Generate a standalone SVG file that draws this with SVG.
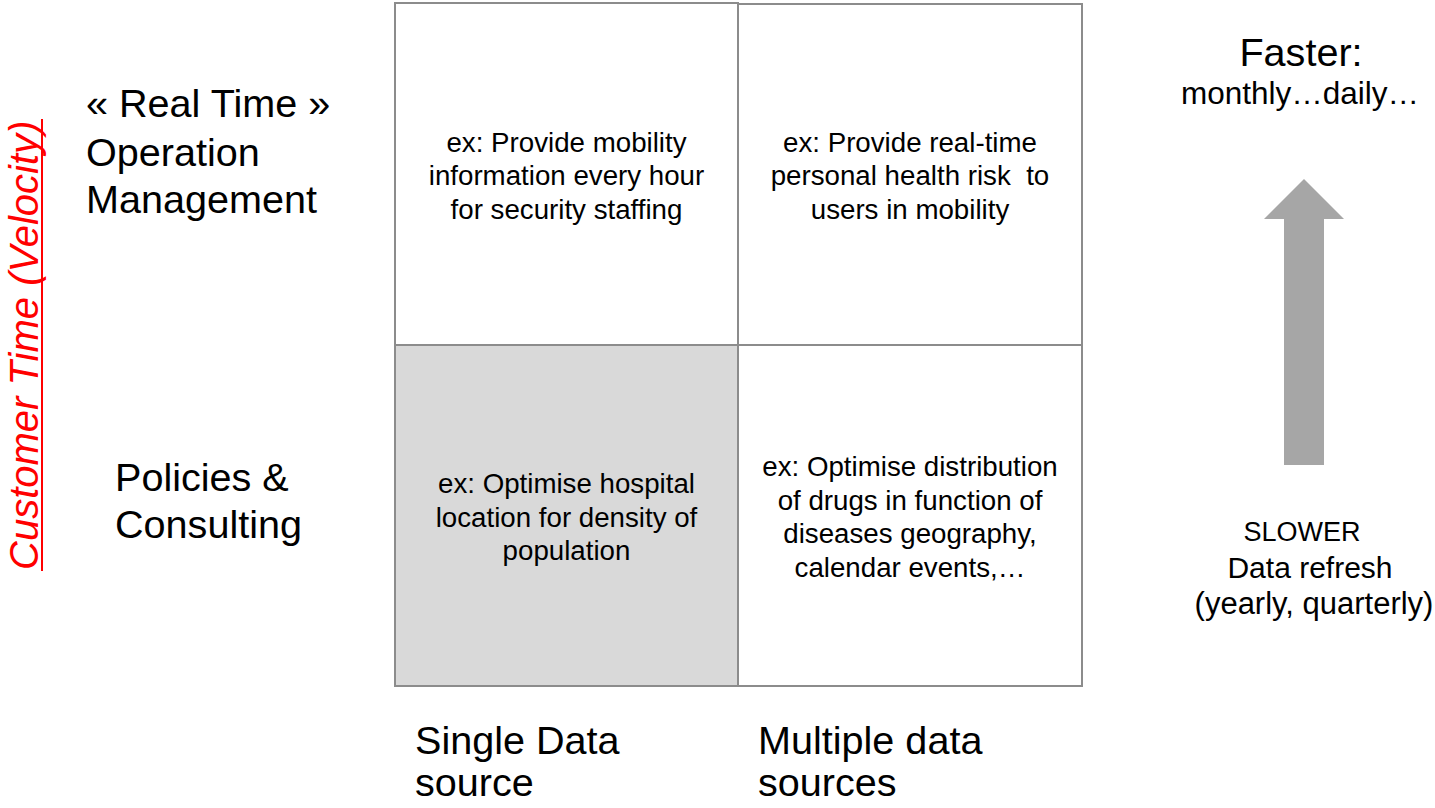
<svg xmlns="http://www.w3.org/2000/svg" width="1435" height="808" viewBox="0 0 1435 808">
<style>
  text { font-family: "Liberation Sans", Arial, sans-serif; fill: #000; }
  .big { font-size: 39.6px; }
  .cell { font-size: 27.7px; text-anchor: middle; }
  .side { font-size: 30px; text-anchor: middle; }
  .box { stroke: #8c8c8c; stroke-width: 2; fill: #ffffff; }
  .shaded { fill: #d9d9d9; }
  .axis { font-size: 40px; font-style: italic; fill: #ff0000; }
</style>
<rect x="0" y="0" width="1435" height="808" fill="#ffffff"/>

<g id="axis-label">
  <text class="axis" x="38" y="570" transform="rotate(-90 38 570)">Customer Time (Velocity)</text>
  <line x1="42" y1="119" x2="42" y2="571" stroke="#ff0000" stroke-width="2"/>
</g>

<g id="row-labels">
  <text class="big" x="86" y="117">« Real Time »</text>
  <text class="big" x="86" y="166">Operation</text>
  <text class="big" x="86" y="213">Management</text>
  <text class="big" x="115" y="491">Policies &amp;</text>
  <text class="big" x="115" y="538">Consulting</text>
</g>

<g id="cell-top-left">
  <rect class="box" x="395" y="3" width="343" height="342"/>
  <text class="cell" x="566.5" y="151.5">ex: Provide mobility</text>
  <text class="cell" x="566.5" y="185">information every hour</text>
  <text class="cell" x="566.5" y="218.5">for security staffing</text>
</g>

<g id="cell-top-right">
  <rect class="box" x="738" y="4" width="344" height="341"/>
  <text class="cell" x="910" y="151.5">ex: Provide real-time</text>
  <text class="cell" x="910" y="185" xml:space="preserve">personal health risk  to</text>
  <text class="cell" x="910" y="218.5">users in mobility</text>
</g>

<g id="cell-bottom-left">
  <rect class="box shaded" x="395" y="345" width="343" height="341"/>
  <text class="cell" x="566.5" y="493">ex: Optimise hospital</text>
  <text class="cell" x="566.5" y="526.5">location for density of</text>
  <text class="cell" x="566.5" y="560">population</text>
</g>

<g id="cell-bottom-right">
  <rect class="box" x="738" y="345" width="344" height="341"/>
  <text class="cell" x="910" y="476">ex: Optimise distribution</text>
  <text class="cell" x="910" y="509.5">of drugs in function of</text>
  <text class="cell" x="910" y="543">diseases geography,</text>
  <text class="cell" x="910" y="576.5">calendar events,…</text>
</g>

<g id="column-labels">
  <text class="big" x="415" y="754">Single Data</text>
  <text class="big" x="415" y="796">source</text>
  <text class="big" x="758" y="754">Multiple data</text>
  <text class="big" x="758" y="796">sources</text>
</g>

<g id="connectors">
  <polygon points="1304,179 1344,219 1324,219 1324,465 1284,465 1284,219 1264,219" fill="#a6a6a6"/>
</g>

<g id="speed-labels">
  <text class="big" x="1301" y="66" text-anchor="middle">Faster:</text>
  <text class="side" x="1300" y="104" style="font-size:31.5px">monthly…daily…</text>
  <text class="side" x="1302" y="541" style="font-size:27px">SLOWER</text>
  <text class="side" x="1310" y="578">Data refresh</text>
  <text class="side" x="1314" y="614" style="font-size:31px">(yearly, quarterly)</text>
</g>
</svg>
